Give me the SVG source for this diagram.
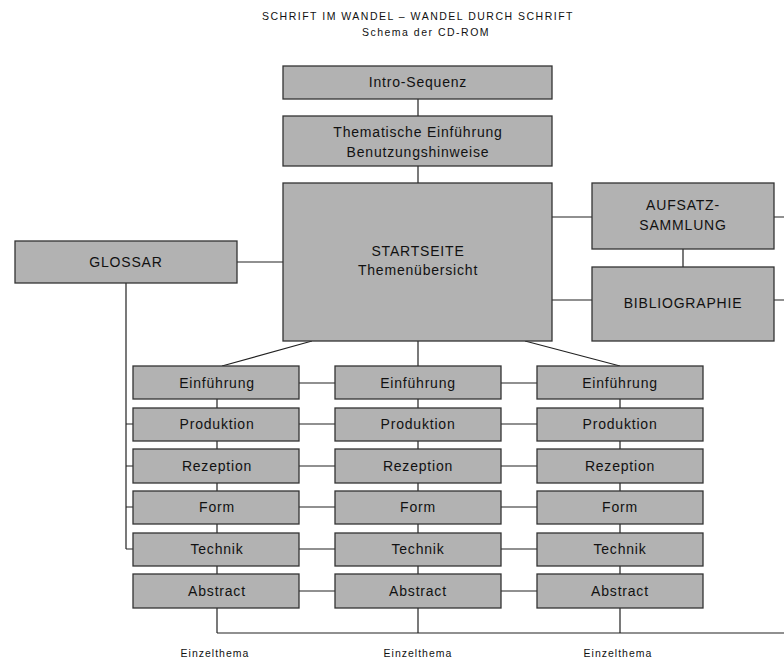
<svg xmlns="http://www.w3.org/2000/svg" width="784" height="659" viewBox="0 0 784 659">
<style>
.b{fill:#b2b2b2;stroke:#333;stroke-width:1.3}
.t{font-family:"Liberation Sans",Arial,sans-serif;font-size:14px;letter-spacing:0.8px;fill:#111;text-anchor:middle}
.s{font-family:"Liberation Sans",Arial,sans-serif;font-size:10.5px;letter-spacing:1.5px;fill:#111;text-anchor:middle}
.c{stroke:#222;stroke-width:1.2;fill:none}
</style>
<rect width="784" height="659" fill="#fff"/>
<text class="s" x="418" y="20">SCHRIFT IM WANDEL – WANDEL DURCH SCHRIFT</text>
<text class="s" x="426" y="36">Schema der CD-ROM</text>
<g id="connectors" class="c">
<path d="M418 99V116M418 166V183"/>
<path d="M237 262H283M552 217H592M552 300H592M683 249V267M774 217H784M774 300H784"/>
<path d="M126 283V549M126 424H133M126 466H133M126 507H133M126 549H133"/>
<path d="M312 341L222 366M418 341V366M525 341L620 366"/>
<path d="M217 399V408M217 441V449M217 483V491M217 524V533M217 566V574"/>
<path d="M418 399V408M418 441V449M418 483V491M418 524V533M418 566V574"/>
<path d="M620 399V408M620 441V449M620 483V491M620 524V533M620 566V574"/>
<path d="M299 383H335M501 383H537M299 424H335M501 424H537M299 466H335M501 466H537M299 507H335M501 507H537M299 549H335M501 549H537M299 591H335M501 591H537"/>
<path d="M217 608V633M418 608V633M620 608V633M217 633H784"/>
</g>
<g id="intro"><rect class="b" x="283" y="66" width="269" height="33"/><text class="t" x="418" y="87">Intro-Sequenz</text></g>
<g id="thematisch"><rect class="b" x="283" y="116" width="269" height="50"/><text class="t" x="418" y="137">Thematische Einführung</text><text class="t" x="418" y="157">Benutzungshinweise</text></g>
<g id="startseite"><rect class="b" x="283" y="183" width="269" height="158"/><text class="t" x="418" y="256">STARTSEITE</text><text class="t" x="418" y="275">Themenübersicht</text></g>
<g id="glossar"><rect class="b" x="15" y="241" width="222" height="42"/><text class="t" x="126" y="267">GLOSSAR</text></g>
<g id="aufsatz"><rect class="b" x="592" y="183" width="182" height="66"/><text class="t" x="683" y="210">AUFSATZ-</text><text class="t" x="683" y="230">SAMMLUNG</text></g>
<g id="biblio"><rect class="b" x="592" y="267" width="182" height="74"/><text class="t" x="683" y="308">BIBLIOGRAPHIE</text></g>
<g id="col1">
<g id="c1-einf"><rect class="b" x="133" y="366" width="166" height="33"/><text class="t" x="217" y="388">Einführung</text></g>
<g id="c1-prod"><rect class="b" x="133" y="408" width="166" height="33"/><text class="t" x="217" y="429">Produktion</text></g>
<g id="c1-rez"><rect class="b" x="133" y="449" width="166" height="34"/><text class="t" x="217" y="471">Rezeption</text></g>
<g id="c1-form"><rect class="b" x="133" y="491" width="166" height="33"/><text class="t" x="217" y="512">Form</text></g>
<g id="c1-tech"><rect class="b" x="133" y="533" width="166" height="33"/><text class="t" x="217" y="554">Technik</text></g>
<g id="c1-abs"><rect class="b" x="133" y="574" width="166" height="34"/><text class="t" x="217" y="596">Abstract</text></g>
</g>
<g id="col2">
<g id="c2-einf"><rect class="b" x="335" y="366" width="166" height="33"/><text class="t" x="418" y="388">Einführung</text></g>
<g id="c2-prod"><rect class="b" x="335" y="408" width="166" height="33"/><text class="t" x="418" y="429">Produktion</text></g>
<g id="c2-rez"><rect class="b" x="335" y="449" width="166" height="34"/><text class="t" x="418" y="471">Rezeption</text></g>
<g id="c2-form"><rect class="b" x="335" y="491" width="166" height="33"/><text class="t" x="418" y="512">Form</text></g>
<g id="c2-tech"><rect class="b" x="335" y="533" width="166" height="33"/><text class="t" x="418" y="554">Technik</text></g>
<g id="c2-abs"><rect class="b" x="335" y="574" width="166" height="34"/><text class="t" x="418" y="596">Abstract</text></g>
</g>
<g id="col3">
<g id="c3-einf"><rect class="b" x="537" y="366" width="166" height="33"/><text class="t" x="620" y="388">Einführung</text></g>
<g id="c3-prod"><rect class="b" x="537" y="408" width="166" height="33"/><text class="t" x="620" y="429">Produktion</text></g>
<g id="c3-rez"><rect class="b" x="537" y="449" width="166" height="34"/><text class="t" x="620" y="471">Rezeption</text></g>
<g id="c3-form"><rect class="b" x="537" y="491" width="166" height="33"/><text class="t" x="620" y="512">Form</text></g>
<g id="c3-tech"><rect class="b" x="537" y="533" width="166" height="33"/><text class="t" x="620" y="554">Technik</text></g>
<g id="c3-abs"><rect class="b" x="537" y="574" width="166" height="34"/><text class="t" x="620" y="596">Abstract</text></g>
</g>
<g id="labels">
<text class="s" style="letter-spacing:1px" x="215" y="657">Einzelthema</text>
<text class="s" style="letter-spacing:1px" x="418" y="657">Einzelthema</text>
<text class="s" style="letter-spacing:1px" x="618" y="657">Einzelthema</text>
</g>
</svg>
